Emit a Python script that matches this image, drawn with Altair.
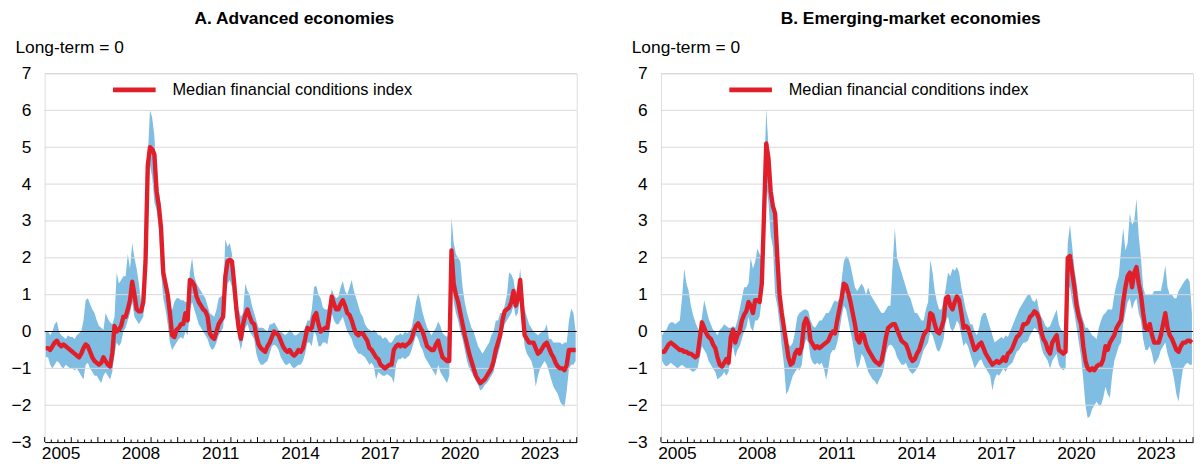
import altair as alt
import pandas as pd

FONT = "Liberation Sans"
BLUE = "#80bde3"
RED = "#e01f2b"
LEGEND_LABEL = "Median financial conditions index"

TITLE_A = "A. Advanced economies"
TITLE_B = "B. Emerging-market economies"
UNIT = "Long-term = 0"

# monthly observations, Jan 2005 .. Dec 2024 (12 values per row = one year)
A_MED = [
    -0.45, -0.45, -0.5, -0.4, -0.3, -0.25, -0.35, -0.4, -0.35, -0.4, -0.45, -0.5,
    -0.55, -0.6, -0.65, -0.7, -0.6, -0.45, -0.35, -0.4, -0.55, -0.7, -0.8, -0.85,
    -0.9, -0.85, -0.7, -0.8, -0.9, -0.95, -0.6, 0.15, 0.0, 0.05, 0.15, 0.4,
    0.4, 0.6, 0.85, 1.35, 1.0, 0.6, 0.55, 0.55, 0.8, 1.9, 4.5, 5.0,
    4.95, 4.8, 3.8, 3.4, 2.8, 1.6, 1.3, 1.0, 0.5, -0.1, -0.15, 0.05,
    0.1, 0.2, 0.2, 0.5, 0.3, 1.4, 1.35, 1.25, 0.95, 0.8, 0.7, 0.6,
    0.55, 0.4, -0.05, -0.15, -0.2, 0.0, 0.2, 0.3, 0.4, 1.5, 1.9, 1.95,
    1.9, 1.3, 0.6, 0.1, -0.2, 0.2, 0.45, 0.6, 0.4, 0.25, 0.2, -0.1,
    -0.35, -0.45, -0.5, -0.55, -0.4, -0.3, -0.15, 0.0, -0.05, -0.1, -0.25, -0.4,
    -0.5, -0.55, -0.5, -0.6, -0.65, -0.6, -0.5, -0.55, -0.45, -0.2, 0.1, 0.05,
    0.1, 0.4, 0.5, 0.2, 0.0, 0.05, 0.1, 0.1, 0.5, 0.95, 0.75, 0.6,
    0.6, 0.75, 0.85, 0.7, 0.5, 0.45, 0.3, 0.1, -0.05, -0.1, -0.05, -0.05,
    -0.15, -0.25, -0.45, -0.5, -0.6, -0.7, -0.75, -0.9, -0.95, -1.0, -0.95, -0.9,
    -0.9, -0.5, -0.4, -0.35, -0.4, -0.35, -0.4, -0.35, -0.3, -0.2, 0.0, 0.15,
    0.22, 0.1, 0.0, -0.2, -0.4, -0.45, -0.5, -0.5, -0.35, -0.25, -0.5, -0.7,
    -0.75, -0.8, -0.8, 2.2, 1.3, 1.0, 0.8, 0.5, 0.2, -0.1, -0.35, -0.6,
    -0.8, -1.0, -1.2, -1.3, -1.4, -1.35, -1.3, -1.2, -1.1, -1.0, -0.8, -0.5,
    -0.3, -0.1, 0.3, 0.55, 0.6, 0.65, 0.8, 1.1, 0.7, 0.9, 1.4, 0.6,
    -0.1, -0.2, -0.3, -0.3, -0.3, -0.45, -0.6, -0.55, -0.45, -0.35, -0.3, -0.45,
    -0.6, -0.7, -0.85, -0.95, -1.0, -1.0, -1.05, -0.9, -0.5, -0.5, -0.5, -0.5,
]
A_HIGH = [
    0.0, 0.0, -0.1, 0.0, 0.2, 0.27, 0.0, -0.1, -0.15, -0.2, -0.1, -0.15,
    -0.15, -0.2, -0.1, -0.05, 0.0, 0.3, 0.85, 0.9, 0.75, 0.6, 0.5, 0.3,
    0.15, 0.1, 0.05, 0.5, 0.35, 0.25, 0.2, 0.4, 1.6, 1.3, 1.4, 1.5,
    1.5, 2.1, 1.7, 2.4, 2.0, 1.7, 1.3, 0.8, 1.3, 2.5, 4.7, 6.0,
    5.8, 5.3, 4.2, 3.8, 3.4, 2.0, 1.4, 1.1, 0.6, 0.6, 0.8, 0.9,
    0.9, 0.85, 0.85, 0.8, 0.8, 1.6, 2.0, 1.5, 1.3, 1.2, 1.1, 1.0,
    0.9, 0.7, 0.5, 0.45, 0.4, 0.6, 0.9, 0.95, 1.0, 2.5, 2.3, 2.4,
    2.1, 1.5, 1.0, 0.6, 0.4, 0.5, 1.3, 1.1, 1.0, 0.7, 0.5, 0.3,
    0.1, 0.1, 0.1, 0.05, 0.0, 0.2, 0.2, 0.25, 0.15, 0.05, 0.0, -0.05,
    -0.1, -0.05, 0.05, 0.0, -0.1, -0.1, -0.05, 0.0, 0.0, 0.1, 0.3, 0.3,
    0.6, 1.2, 1.25, 1.0, 0.9, 0.65, 0.6, 0.6, 0.8, 1.15, 1.0, 0.9,
    0.95, 1.2, 1.37, 1.1, 1.0, 1.2, 1.4, 1.1, 0.9, 0.7, 0.5, 0.4,
    0.2, 0.1, 0.05, 0.0, 0.05, 0.0, -0.1, -0.1, -0.2, -0.15, -0.2, -0.3,
    -0.3, -0.2, -0.1, -0.1, -0.05, -0.1, 0.0, -0.05, 0.0, 0.1, 0.4, 0.8,
    1.05, 0.8, 0.5, 0.3, 0.1, 0.0, -0.1, 0.0, 0.1, 0.27, 0.15, -0.05,
    -0.1, -0.15, 0.0, 3.1, 2.4, 2.1, 2.0, 1.9, 1.2, 0.8, 0.5, 0.3,
    0.1, 0.0, -0.2, -0.4, -0.5, -0.6, -0.5, -0.4, -0.3, -0.1, 0.0, 0.3,
    0.3, 0.5, 0.5, 0.7, 1.0, 1.6, 1.55, 1.4, 1.0, 1.2, 1.7, 1.0,
    0.6, 0.4, 0.2, 0.1, 0.0, -0.05, -0.1, -0.05, 0.0, 0.05, 0.2, -0.2,
    -0.2, -0.3, -0.3, -0.3, -0.3, -0.35, -0.3, -0.3, 0.3, 0.62, 0.5, 0.0,
]
A_LOW = [
    -0.7, -0.7, -0.9, -1.0, -0.9, -0.8, -0.85, -0.95, -1.0, -0.9, -0.95, -1.0,
    -1.0, -1.05, -1.0, -1.1, -1.2, -1.3, -0.9, -0.85, -1.0, -1.1, -1.2, -1.2,
    -1.3, -1.4, -1.2, -1.1, -1.2, -1.3, -1.1, -0.6, -0.3, -0.4, -0.3, 0.0,
    0.1, 0.3, 0.5, 0.8, 0.4, 0.3, 0.2, 0.3, 0.4, 1.2, 3.8, 4.5,
    4.2, 3.5, 3.3, 2.8, 1.6, 0.9, 0.6, 0.2, -0.3, -0.5, -0.4, -0.3,
    -0.2, -0.15, -0.2, 0.0, -0.1, 0.6, 0.8, 0.6, 0.4, 0.2, 0.1, 0.0,
    -0.1, -0.2, -0.4, -0.5, -0.45, -0.3, -0.1, 0.0, 0.1, 0.9, 1.3, 1.4,
    1.2, 0.7, 0.2, -0.2, -0.5, -0.2, 0.1, 0.2, 0.0, -0.1, -0.2, -0.6,
    -0.8, -0.9, -0.9, -0.85, -0.8, -0.6, -0.4, -0.35, -0.4, -0.5, -0.7, -0.8,
    -0.9, -0.9, -0.85, -0.95, -1.0, -0.95, -0.9, -0.9, -0.8, -0.6, -0.3, -0.3,
    -0.4, 0.0, -0.1, -0.4, -0.4, -0.3, -0.3, -0.35, 0.0, 0.5, 0.3, 0.2,
    0.2, 0.3, 0.4, 0.2, 0.0, -0.1, -0.2, -0.4, -0.5, -0.6, -0.6, -0.65,
    -0.7, -0.8, -0.9, -0.85, -0.95, -1.3, -1.1, -1.15, -1.2, -1.2, -1.15, -1.2,
    -1.25, -1.4, -0.9, -0.75, -0.75, -0.7, -0.75, -0.7, -0.65, -0.5, -0.3, -0.1,
    -0.2, -0.4, -0.5, -0.7, -0.8, -0.9, -1.0, -1.1, -1.2, -0.9, -1.1, -1.2,
    -1.3, -1.4, -1.2, 1.5, 0.8, 0.5, 0.3, 0.0, -0.2, -0.5, -0.8, -1.0,
    -1.1, -1.2, -1.35, -1.45, -1.6, -1.55, -1.45, -1.4, -1.3, -1.2, -1.1, -0.8,
    -0.6, -0.4, 0.0, 0.2, 0.3, 0.4, 0.5, 0.7, 0.4, 0.5, 1.0, 0.2,
    -0.4, -0.6, -0.7, -0.8, -1.0, -1.5, -1.2, -1.0, -0.9, -0.8, -0.9, -1.1,
    -1.3, -1.5, -1.6, -1.7, -1.9, -2.0, -2.05, -1.6, -1.0, -0.9, -0.9, -0.8,
]

B_MED = [
    -0.55, -0.55, -0.45, -0.35, -0.3, -0.35, -0.4, -0.45, -0.5, -0.5, -0.55, -0.55,
    -0.6, -0.6, -0.65, -0.7, -0.65, -0.2, 0.25, 0.1, -0.05, -0.15, -0.2, -0.35,
    -0.45, -0.7, -0.9, -0.95, -0.85, -0.75, -0.85, -0.15, 0.05, -0.3, -0.1, 0.0,
    0.3, 0.45, 0.55, 0.8, 0.7, 0.5, 0.85, 0.85, 0.8, 1.3, 3.2, 5.1,
    4.7, 3.8, 3.4, 3.2, 2.0, 1.0, 0.5, 0.1, -0.3, -0.7, -0.9, -0.85,
    -0.6, -0.5, -0.6, -0.4, 0.2, 0.35, 0.2, -0.25, -0.35, -0.45, -0.4, -0.45,
    -0.4, -0.35, -0.3, -0.25, -0.1, 0.0, -0.05, 0.3, 0.6, 0.9, 1.3, 1.25,
    1.05, 0.8, 0.5, 0.2, -0.2, -0.3, -0.05, -0.1, -0.35, -0.5, -0.6, -0.7,
    -0.8, -0.85, -0.9, -0.8, -0.5, -0.15, 0.1, 0.15, 0.2, 0.2, 0.05, -0.1,
    -0.25, -0.3, -0.35, -0.5, -0.7, -0.8, -0.75, -0.6, -0.5, -0.3, -0.1, 0.0,
    0.05, 0.5, 0.45, 0.2, 0.0, -0.05, 0.1, 0.3, 0.9, 0.95, 0.7, 0.6,
    0.8, 0.95, 0.85, 0.5, 0.1, 0.15, 0.1, -0.1, -0.3, -0.5, -0.45, -0.35,
    -0.3, -0.45, -0.6, -0.7, -0.8, -0.9, -0.85, -0.8, -0.85, -0.8, -0.7, -0.8,
    -0.6, -0.55, -0.45, -0.3, -0.15, -0.1, 0.0, 0.2, 0.2, 0.25, 0.4, 0.45,
    0.55, 0.5, 0.35, 0.0, -0.2, -0.3, -0.5, -0.6, -0.3, -0.2, -0.1, -0.5,
    -0.55, -0.6, -0.55, 2.0, 2.05, 1.6, 1.2, 0.7, 0.4, 0.2, -0.4, -0.8,
    -1.0, -1.05, -1.0, -1.05, -0.95, -0.9, -0.9, -0.75, -0.4, -0.5, -0.3, -0.2,
    -0.1, 0.1, 0.2, 0.3, 0.8, 1.2, 1.5, 1.6, 1.2, 1.6, 1.75, 1.3,
    1.0, 0.5, 0.1, 0.05, 0.2, -0.1, -0.3, -0.3, -0.3, -0.1, 0.2, 0.5,
    0.1, -0.1, -0.2, -0.35, -0.5, -0.55, -0.4, -0.3, -0.3, -0.25, -0.25, -0.3,
]
B_HIGH = [
    -0.1, 0.0, 0.05, 0.2, 0.25, 0.25, 0.2, 0.25, 0.3, 0.9, 1.7, 1.3,
    1.1, 0.7, 0.45, 0.25, 0.1, 0.0, 0.4, 0.85, 0.6, 0.35, 0.2, 0.05,
    0.0, -0.1, 0.05, 0.1, 0.2, 0.15, 0.1, 0.1, 0.15, 0.1, 0.3, 0.6,
    0.9, 1.2, 1.2, 1.3, 2.0, 1.7, 1.9, 2.25, 2.1, 2.0, 4.0, 6.05,
    5.0, 3.9, 3.6, 3.3, 2.2, 1.1, 0.8, 0.4, -0.1, -0.35, -0.4, -0.3,
    0.0, 0.4, 0.5, 0.55, 0.6, 0.6, 0.55, 0.3, 0.15, 0.1, 0.2, 0.3,
    0.3, 0.4, 0.5, 0.5, 0.6, 0.75, 0.85, 0.8, 0.9, 1.4, 1.9, 2.05,
    2.0, 1.8, 1.5, 1.2, 1.1, 1.2, 1.3, 1.2, 1.0, 1.2, 1.0, 0.9,
    0.8, 0.7, 0.6, 0.5, 0.5, 0.6, 0.7, 0.7, 1.8, 2.8, 2.0, 1.8,
    1.6, 1.4, 1.2, 1.0, 0.9, 0.7, 0.5, 0.5, 0.4, 0.3, 0.3, 0.6,
    0.8, 1.95, 1.6, 1.1, 0.8, 0.6, 0.6, 0.8, 1.2, 1.6, 1.5, 1.7,
    1.65, 1.75, 1.6, 1.2, 0.9, 0.6, 0.4, 0.2, 0.2, 0.0, -0.1, 0.1,
    0.4, 0.5, 0.5, 0.3, 0.1, -0.1, -0.3, -0.25, -0.2, -0.15, -0.2, -0.1,
    -0.15, 0.0, 0.15, 0.3, 0.45, 0.6, 0.7, 0.8, 0.9, 1.0, 1.0, 0.85,
    0.8, 0.9, 0.6, 0.4, 0.3, 0.15, 0.1, 0.15, 0.3, 0.45, 0.6, 0.2,
    0.05, 0.0, 0.0, 2.4, 2.9, 2.3, 1.7, 1.3, 0.8, 0.5, 0.3, 0.1,
    0.1, 0.0, -0.1, -0.15, -0.2, 0.1, 0.3, 0.45, 0.5, 0.6, 0.6, 0.6,
    1.0, 1.3, 1.5, 2.2, 2.8, 2.2, 2.4, 3.2, 2.9, 3.0, 3.6, 2.6,
    2.0, 1.2, 1.0, 1.0, 1.0, 1.0, 1.1, 1.1, 1.1, 1.1, 1.4, 1.8,
    1.2, 1.0, 1.0, 0.9, 0.9, 1.1, 1.2, 1.3, 1.4, 1.45, 1.35, 0.5,
]
B_LOW = [
    -0.8, -0.9, -0.95, -0.9, -0.85, -0.9, -0.95, -1.0, -0.95, -0.9, -0.95, -1.0,
    -1.0, -1.05, -1.1, -1.05, -1.0, -0.7, -0.4, -0.5, -0.6, -0.8, -0.9, -1.0,
    -1.1, -1.3, -1.25, -1.2, -1.1, -1.2, -1.1, -0.6, -0.4, -0.7, -0.5, -0.4,
    -0.2, 0.0, 0.1, 0.4, 0.1, 0.0, 0.3, 0.3, 0.4, 0.9, 2.3, 4.0,
    3.5, 2.6, 2.3, 1.0, 0.7, 0.2, -0.4, -0.9, -1.7, -1.6, -1.4, -1.2,
    -1.1, -1.0, -1.05, -0.9, -0.4, -0.2, -0.3, -0.7, -0.85, -0.9, -0.85, -0.9,
    -0.85, -1.0, -1.3, -1.0, -0.6, -0.5, -0.5, -0.3, 0.0, 0.4, 0.7, 0.6,
    0.3, 0.0, -0.3, -0.7, -1.0, -0.9, -0.6, -0.7, -0.9, -1.1, -1.2, -1.3,
    -1.35, -1.45, -1.3, -1.2, -1.0, -0.6, -0.4, -0.35, -0.4, -0.5, -0.7, -0.8,
    -0.9, -0.9, -0.85, -1.0, -1.1, -1.15, -1.1, -1.0, -0.9, -0.7, -0.5, -0.4,
    -0.3, 0.0, -0.1, -0.3, -0.5, -0.55, -0.4, -0.2, 0.3, 0.4, 0.1, 0.0,
    0.1, 0.3, 0.2, -0.1, -0.4, -0.3, -0.4, -0.6, -0.8, -1.0, -0.9, -0.8,
    -0.75, -0.9, -1.0, -1.1, -1.2, -1.6, -1.3, -1.15, -1.2, -1.1, -1.0, -1.1,
    -0.95, -0.9, -0.85, -0.7, -0.55, -0.5, -0.4, -0.3, -0.3, -0.25, -0.1, 0.0,
    0.1, 0.05, -0.1, -0.4, -0.6, -0.7, -0.8, -1.0, -0.8, -0.7, -0.6, -0.9,
    -1.0, -1.05, -1.0, 1.2, 1.2, 0.8, 0.5, 0.1, -0.3, -0.7, -1.3, -2.0,
    -2.35, -2.3, -2.1, -2.0, -1.9, -2.0, -2.0, -1.8, -1.5, -1.7, -1.8, -1.2,
    -0.8, -0.6, -0.4, -0.3, 0.2, 0.5, 0.8, 0.9, 0.6, 0.8, 0.9, 0.5,
    0.3, -0.2, -0.5, -0.5, -0.4, -0.6, -0.9, -0.8, -0.7, -0.5, -0.4, -0.3,
    -0.6, -0.8, -1.0, -1.3, -1.7, -1.9, -1.4, -1.0, -0.9, -0.85, -0.9, -0.9,
]

START_YEAR, END_YEAR = 2005, 2025
YEAR_LABELS = [2005, 2008, 2011, 2014, 2017, 2020, 2023]
Y_TICKS = [-3, -2, -1, 0, 1, 2, 3, 4, 5, 6, 7]
GRID_VALUES = [-2, -1, 0, 1, 2, 3, 4, 5, 6, 7]

W, H = 537, 372

xscale = alt.Scale(domain=[START_YEAR, END_YEAR], nice=False, zero=False)
yscale = alt.Scale(domain=[-3, 7], nice=False, zero=False)

xaxis = alt.Axis(
    values=[y + 0.6 for y in YEAR_LABELS], labelExpr="floor(datum.value)",
    ticks=False, grid=False, domain=True, domainColor="black", domainWidth=1,
    labelFontSize=17.5, labelColor="black", labelFont=FONT, labelPadding=3,
    labelFlush=False, title=None,
)
yaxis = alt.Axis(
    values=Y_TICKS, grid=False, domain=False, ticks=False,
    labelFontSize=17.5, labelColor="black", labelFont=FONT, labelPadding=14,
    title=UNIT, titleAngle=0, titleX=-30, titleY=-26, titleAlign="left",
    titleBaseline="middle", titleFontSize=17.5, titleFontWeight="normal",
    titleFont=FONT, titleColor="black",
)


def panel(title, med, low, high):
    assert len(med) == len(low) == len(high) == 240
    n = len(med)
    df = pd.DataFrame({
        "t": [START_YEAR + (i + 0.5) / 12 for i in range(n)],
        "med": med, "low": low, "high": high,
        "series": [LEGEND_LABEL] * n,
    })
    grid_df = pd.DataFrame({"g": GRID_VALUES})
    quarters = [START_YEAR + q / 4 for q in range((END_YEAR - START_YEAR) * 4 + 1)]
    major_df = pd.DataFrame({"t": [q for q in quarters if q == int(q)], "y0": -3, "y1": -2.865})
    minor_df = pd.DataFrame({"t": [q for q in quarters if q != int(q)], "y0": -3, "y1": -2.93})

    X = alt.X("t:Q", scale=xscale, axis=xaxis)

    band = alt.Chart(df).mark_area(color=BLUE, opacity=1).encode(
        x=X, y=alt.Y("low:Q", scale=yscale, axis=yaxis), y2="high:Q"
    )
    grid = alt.Chart(grid_df).mark_rule(color="#d9d9d9", strokeWidth=1).encode(
        y=alt.Y("g:Q", scale=yscale, axis=yaxis)
    )
    zero = alt.Chart(pd.DataFrame({"z": [0]})).mark_rule(color="black", strokeWidth=1.2).encode(
        y=alt.Y("z:Q", scale=yscale, axis=yaxis)
    )
    major = alt.Chart(major_df).mark_rule(color="black", strokeWidth=1).encode(
        x=X, y=alt.Y("y0:Q", scale=yscale, axis=yaxis), y2="y1:Q"
    )
    minor = alt.Chart(minor_df).mark_rule(color="black", strokeWidth=1).encode(
        x=X, y=alt.Y("y0:Q", scale=yscale, axis=yaxis), y2="y1:Q"
    )
    line = alt.Chart(df).mark_line(strokeWidth=4.4, strokeJoin="round").encode(
        x=X, y=alt.Y("med:Q", scale=yscale, axis=yaxis),
        color=alt.Color(
            "series:N", scale=alt.Scale(range=[RED]),
            legend=alt.Legend(
                orient="none", legendX=66, legendY=-8, title=None, padding=0,
                symbolType="stroke", symbolSize=1850, symbolStrokeWidth=5,
                labelFontSize=16.5, labelFont=FONT, labelColor="black",
                labelOffset=14, labelLimit=0,
            ),
        ),
    )
    return alt.layer(band, grid, zero, major, minor, line).properties(
        width=W, height=H,
        title=alt.TitleParams(
            title, fontSize=17.5, fontWeight="bold", font=FONT, color="black",
            anchor="middle", frame="bounds", offset=11,
        ),
    )


chart = alt.hconcat(
    panel(TITLE_A, A_MED, A_LOW, A_HIGH),
    panel(TITLE_B, B_MED, B_LOW, B_HIGH),
    spacing=48,
).resolve_scale(color="independent").properties(
    padding={"left": 2, "top": 0, "right": 0, "bottom": 0}
).configure_view(stroke=None).configure(font=FONT)

chart.save("out.html", embed_options={"renderer": "svg", "actions": False})
